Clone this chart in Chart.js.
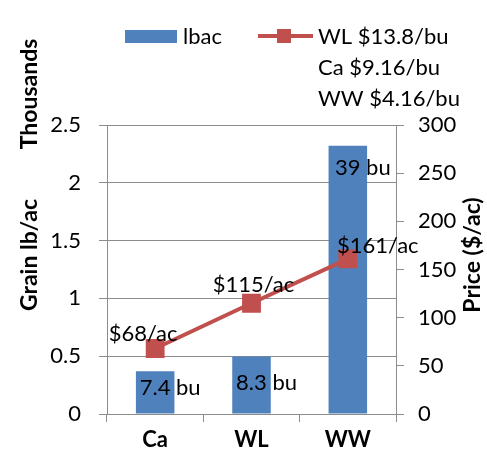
<!DOCTYPE html>
<html>
<head>
<meta charset="utf-8">
<title>Grain and price</title>
<script src="https://cdn.jsdelivr.net/npm/chart.js@4.4.1/dist/chart.umd.min.js"></script>
<style>
  body { margin: 0; background: #fff; }
  #wrap { width: 487px; height: 462px; }
</style>
</head>
<body>
<div id="wrap"><canvas id="myChart" width="487" height="462"></canvas></div>
<script>
// chart data
const crops = ["Ca", "WL", "WW"];
const grainThousands = [0.37, 0.498, 2.32];      // Grain lb/ac (thousands)
const priceAc = [68, 115, 161];                  // Price ($/ac)
const bushelLabels = ["7.4 bu", "8.3 bu", "39 bu"];
const priceLabels = ["$68/ac", "$115/ac", "$161/ac"];
const leftTicks = [0, 0.5, 1, 1.5, 2, 2.5];
const rightTicks = [0, 50, 100, 150, 200, 250, 300];
const legendLines = ["WL $13.8/bu", "Ca $9.16/bu", "WW $4.16/bu"];

const FONT = "Lato, 'DejaVu Sans', sans-serif";
const BLUE = "#4F81BD";
const RED = "#C0504D";
const GRID = "#8c8c8c";

// labels, titles and legend drawn straight on the canvas
const extras = {
  id: "extras",
  afterDatasetsDraw(chart) {
    const ctx = chart.ctx;
    ctx.save();
    ctx.fillStyle = "#000";
    ctx.textBaseline = "middle";
    ctx.textAlign = "center";
    ctx.font = "22px " + FONT;

    // bar value labels (bar dataset is index 1)
    const barOff = [[15, 17], [15, 26], [15, 22]];
    chart.getDatasetMeta(1).data.forEach((bar, i) => {
      ctx.fillText(bushelLabels[i], bar.x + barOff[i][0], bar.y + barOff[i][1]);
    });
    // line value labels (line dataset is index 0)
    const lineOff = [[-12, -15], [2, -18], [30, -13]];
    chart.getDatasetMeta(0).data.forEach((pt, i) => {
      ctx.fillText(priceLabels[i], pt.x + lineOff[i][0], pt.y + lineOff[i][1]);
    });

    // axis titles
    ctx.font = "bold 23px " + FONT;
    const vtext = (t, x, y) => {
      ctx.save();
      ctx.translate(x, y);
      ctx.rotate(-Math.PI / 2);
      ctx.fillText(t, 0, 0);
      ctx.restore();
    };
    vtext("Grain lb/ac", 30, 255);
    vtext("Thousands", 30, 94);
    vtext("Price ($/ac)", 473, 255);

    // legend
    ctx.fillStyle = BLUE;
    ctx.fillRect(125, 30, 52, 13);
    ctx.strokeStyle = RED;
    ctx.lineWidth = 4;
    ctx.beginPath();
    ctx.moveTo(258, 36);
    ctx.lineTo(313, 36);
    ctx.stroke();
    ctx.fillStyle = RED;
    ctx.fillRect(277, 29, 14, 14);
    ctx.fillStyle = "#000";
    ctx.textAlign = "left";
    ctx.font = "22px " + FONT;
    ctx.fillText("lbac", 183, 37);
    legendLines.forEach((t, i) => ctx.fillText(t, 318, 37 + i * 31));
    ctx.restore();
  }
};

new Chart(document.getElementById("myChart"), {
  data: {
    labels: crops,
    datasets: [
      {
        type: "line",
        label: legendLines[0],
        data: priceAc,
        yAxisID: "y1",
        borderColor: RED,
        backgroundColor: RED,
        borderWidth: 4,
        pointStyle: "rect",
        pointRadius: 10.5,
        pointHoverRadius: 10.5,
        tension: 0,
        order: 0
      },
      {
        type: "bar",
        label: "lbac",
        data: grainThousands,
        yAxisID: "y",
        backgroundColor: BLUE,
        barPercentage: 0.4,
        categoryPercentage: 1,
        order: 1
      }
    ]
  },
  options: {
    responsive: false,
    animation: false,
    layout: { padding: { top: 125, left: 0, right: 0, bottom: 0 } },
    plugins: { legend: { display: false }, tooltip: { enabled: false } },
    scales: {
      x: {
        afterFit: s => { s.height = 48; },
        grid: { drawOnChartArea: false, color: GRID, tickLength: 8, offset: true },
        border: { color: GRID },
        ticks: { color: "#000", padding: 5, font: { family: FONT, size: 22, weight: "bold" } }
      },
      y: {
        position: "left",
        min: 0, max: 2.5,
        afterFit: s => { s.width = 107; },
        afterBuildTicks: s => { s.ticks = leftTicks.map(v => ({ value: v })); },
        grid: { color: GRID, tickLength: 8 },
        border: { color: GRID },
        ticks: { color: "#000", padding: 18, font: { family: FONT, size: 22 }, callback: v => String(v) }
      },
      y1: {
        position: "right",
        min: 0, max: 300,
        afterFit: s => { s.width = 91; },
        afterBuildTicks: s => { s.ticks = rightTicks.map(v => ({ value: v })); },
        grid: { drawOnChartArea: false, color: GRID, tickLength: 8 },
        border: { color: GRID },
        ticks: { color: "#000", padding: 14, font: { family: FONT, size: 22 }, callback: v => String(v) }
      }
    }
  },
  plugins: [extras]
});
</script>
</body>
</html>
